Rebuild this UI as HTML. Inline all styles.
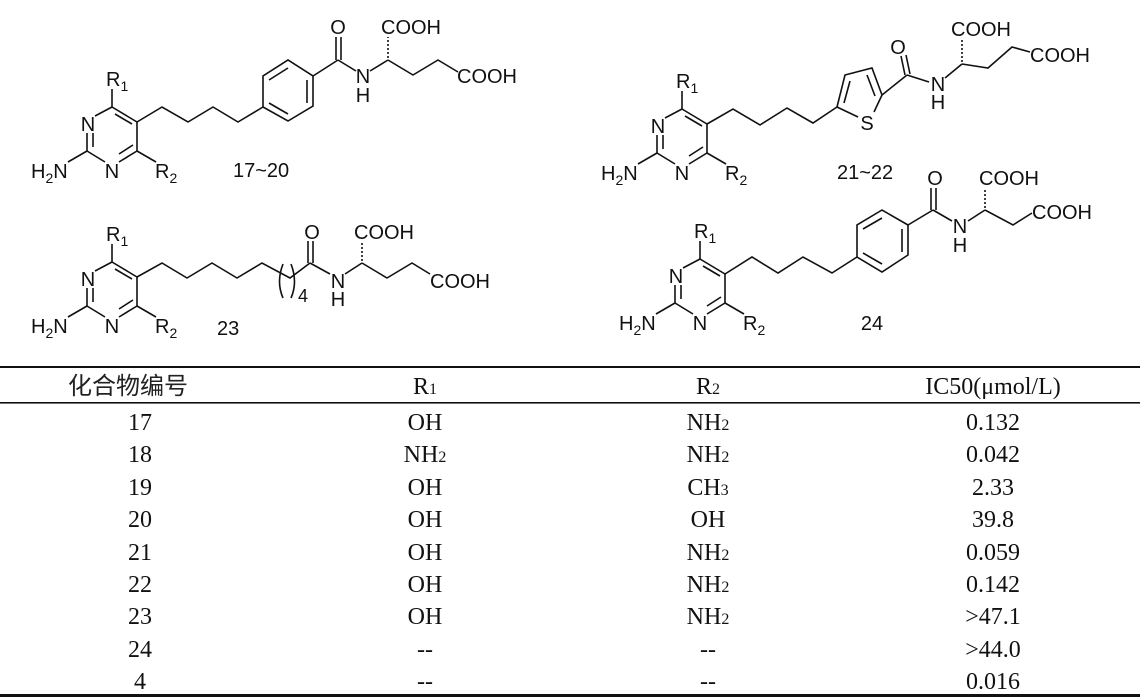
<!DOCTYPE html>
<html><head><meta charset="utf-8"><style>
html,body{margin:0;padding:0;background:#fff;}
svg{display:block;}
.a{font-family:"Liberation Sans",sans-serif;font-size:20px;fill:#111;}
.s{font-size:14px;}
.t{font-family:"Liberation Serif",serif;font-size:24px;fill:#111;text-anchor:middle;}
.c{font-family:"Noto Sans CJK SC","WenQuanYi Zen Hei",sans-serif;font-size:24px;fill:#222;}
line,polyline,path{stroke:#111;stroke-width:1.6;fill:none;}
</style></head><body>
<svg width="1140" height="698" viewBox="0 0 1140 698" xmlns="http://www.w3.org/2000/svg">
<defs>
<g id="pyr">
  <line x1="112" y1="107" x2="137" y2="122"/>
  <line x1="115" y1="114" x2="132" y2="124"/>
  <line x1="137" y1="122" x2="137" y2="151"/>
  <line x1="137" y1="151" x2="119" y2="162"/>
  <line x1="133" y1="145" x2="119" y2="154"/>
  <line x1="105" y1="162" x2="87" y2="151"/>
  <line x1="87" y1="151" x2="87" y2="133"/>
  <line x1="93" y1="147" x2="93" y2="133"/>
  <line x1="95" y1="116" x2="112" y2="107"/>
  <line x1="112" y1="107" x2="112" y2="89"/>
  <line x1="87" y1="151" x2="68" y2="162"/>
  <line x1="137" y1="151" x2="156" y2="162"/>
  <text class="a" x="88" y="131" text-anchor="middle">N</text>
  <text class="a" x="112" y="178" text-anchor="middle">N</text>
  <text class="a" x="106" y="86">R<tspan class="s" dy="5">1</tspan></text>
  <text class="a" x="31" y="178">H<tspan class="s" dy="5">2</tspan><tspan dy="-5">N</tspan></text>
  <text class="a" x="155" y="178">R<tspan class="s" dy="5">2</tspan></text>
</g>
</defs>

<!-- Structure 17~20 -->
<use href="#pyr"/>
<polyline points="137,122 162,107 188,122 213,107 238,122 263,107"/>
<polygon points="263,107 263,76 288,60 313,76 313,106 288,121" style="stroke:#111;stroke-width:1.6;fill:none"/>
<line x1="269" y1="80" x2="288" y2="68"/><line x1="307" y1="80" x2="307" y2="103"/><line x1="269" y1="103" x2="288" y2="114"/>
<line x1="313" y1="76" x2="338" y2="60"/>
<line x1="336" y1="60" x2="336" y2="37"/><line x1="341" y1="60" x2="341" y2="37"/>
<line x1="338" y1="60" x2="356" y2="71"/>
<line x1="370" y1="71" x2="388" y2="60"/>
<path d="M388,58 L388,37" style="stroke-dasharray:2,2"/>
<polyline points="388,60 413,75 438,60 458,72"/>
<text class="a" x="338" y="34" text-anchor="middle">O</text>
<text class="a" x="363" y="83" text-anchor="middle">N</text>
<text class="a" x="363" y="102" text-anchor="middle">H</text>
<text class="a" x="381" y="34">COOH</text>
<text class="a" x="457" y="83">COOH</text>
<text class="a" x="233" y="177">17~20</text>

<!-- Structure 21~22 -->
<use href="#pyr" transform="translate(570,2)"/>
<polyline points="707,124 733,109 760,125 787,108 813,123 837,107"/>
<polyline points="837,107 845,75 872,68 882,95"/>
<line x1="850" y1="81" x2="844" y2="103"/>
<line x1="867" y1="75" x2="875" y2="96"/>
<line x1="837" y1="107" x2="858" y2="117"/>
<line x1="882" y1="95" x2="874" y2="112"/>
<text class="a" x="867" y="130" text-anchor="middle">S</text>
<line x1="882" y1="95" x2="907" y2="75"/>
<line x1="905" y1="75" x2="901" y2="56"/><line x1="910" y1="74" x2="906" y2="55"/>
<line x1="907" y1="75" x2="929" y2="82"/>
<line x1="945" y1="78" x2="962" y2="64"/>
<path d="M962,62 L962,40" style="stroke-dasharray:2,2"/>
<polyline points="962,64 988,68 1012,47 1030,52"/>
<text class="a" x="898" y="54" text-anchor="middle">O</text>
<text class="a" x="938" y="91" text-anchor="middle">N</text>
<text class="a" x="938" y="109" text-anchor="middle">H</text>
<text class="a" x="951" y="36">COOH</text>
<text class="a" x="1030" y="62">COOH</text>
<text class="a" x="837" y="179">21~22</text>

<!-- Structure 23 -->
<use href="#pyr" transform="translate(0,155)"/>
<polyline points="137,277 162,263 187,278 212,263 237,278 262,263 290,278 310,263"/>
<path d="M283,264 Q276,282 283,298" />
<path d="M291,264 Q298,282 291,298" />
<text class="a" x="298" y="302" style="font-size:18px">4</text>
<line x1="308" y1="263" x2="308" y2="241"/><line x1="313" y1="263" x2="313" y2="241"/>
<line x1="310" y1="263" x2="330" y2="274"/>
<line x1="345" y1="274" x2="362" y2="263"/>
<path d="M362,261 L362,241" style="stroke-dasharray:2,2"/>
<polyline points="362,263 387,278 412,263 430,274"/>
<text class="a" x="312" y="239" text-anchor="middle">O</text>
<text class="a" x="338" y="288" text-anchor="middle">N</text>
<text class="a" x="338" y="306" text-anchor="middle">H</text>
<text class="a" x="354" y="239">COOH</text>
<text class="a" x="430" y="288">COOH</text>
<text class="a" x="217" y="335">23</text>

<!-- Structure 24 -->
<use href="#pyr" transform="translate(588,152)"/>
<polyline points="725,274 752,257 778,273 803,257 832,273 857,257"/>
<polygon points="857,257 857,225 882,210 908,225 908,255 882,272" style="stroke:#111;stroke-width:1.6;fill:none"/>
<line x1="863" y1="229" x2="882" y2="218"/><line x1="902" y1="229" x2="902" y2="252"/><line x1="863" y1="253" x2="882" y2="264"/>
<line x1="908" y1="225" x2="933" y2="210"/>
<line x1="931" y1="210" x2="931" y2="188"/><line x1="936" y1="210" x2="936" y2="188"/>
<line x1="933" y1="210" x2="952" y2="221"/>
<line x1="968" y1="221" x2="985" y2="210"/>
<path d="M985,208 L985,189" style="stroke-dasharray:2,2"/>
<polyline points="985,210 1013,225 1032,213"/>
<text class="a" x="935" y="185" text-anchor="middle">O</text>
<text class="a" x="960" y="233" text-anchor="middle">N</text>
<text class="a" x="960" y="252" text-anchor="middle">H</text>
<text class="a" x="979" y="185">COOH</text>
<text class="a" x="1032" y="219">COOH</text>
<text class="a" x="872" y="330" text-anchor="middle">24</text>

<!-- Table -->
<rect x="0" y="366" width="1140" height="2" fill="#111"/>
<rect x="0" y="402" width="1140" height="1.6" fill="#111"/>
<rect x="0" y="694" width="1140" height="3" fill="#111"/>
<text class="c" x="68" y="394">化合物编号</text>
<text class="t" x="425" y="394">R<tspan style="font-size:16px">1</tspan></text>
<text class="t" x="708" y="394">R<tspan style="font-size:16px">2</tspan></text>
<text class="t" x="993" y="394">IC50(μmol/L)</text>

<g>
<text class="t" x="140" y="430">17</text><text class="t" x="425" y="430">OH</text><text class="t" x="708" y="430">NH<tspan style="font-size:16px">2</tspan></text><text class="t" x="993" y="430">0.132</text>
<text class="t" x="140" y="462">18</text><text class="t" x="425" y="462">NH<tspan style="font-size:16px">2</tspan></text><text class="t" x="708" y="462">NH<tspan style="font-size:16px">2</tspan></text><text class="t" x="993" y="462">0.042</text>
<text class="t" x="140" y="495">19</text><text class="t" x="425" y="495">OH</text><text class="t" x="708" y="495">CH<tspan style="font-size:16px">3</tspan></text><text class="t" x="993" y="495">2.33</text>
<text class="t" x="140" y="527">20</text><text class="t" x="425" y="527">OH</text><text class="t" x="708" y="527">OH</text><text class="t" x="993" y="527">39.8</text>
<text class="t" x="140" y="560">21</text><text class="t" x="425" y="560">OH</text><text class="t" x="708" y="560">NH<tspan style="font-size:16px">2</tspan></text><text class="t" x="993" y="560">0.059</text>
<text class="t" x="140" y="592">22</text><text class="t" x="425" y="592">OH</text><text class="t" x="708" y="592">NH<tspan style="font-size:16px">2</tspan></text><text class="t" x="993" y="592">0.142</text>
<text class="t" x="140" y="624">23</text><text class="t" x="425" y="624">OH</text><text class="t" x="708" y="624">NH<tspan style="font-size:16px">2</tspan></text><text class="t" x="993" y="624">&gt;47.1</text>
<text class="t" x="140" y="657">24</text><text class="t" x="425" y="657">--</text><text class="t" x="708" y="657">--</text><text class="t" x="993" y="657">&gt;44.0</text>
<text class="t" x="140" y="689">4</text><text class="t" x="425" y="689">--</text><text class="t" x="708" y="689">--</text><text class="t" x="993" y="689">0.016</text>
</g>
</svg>
</body></html>
